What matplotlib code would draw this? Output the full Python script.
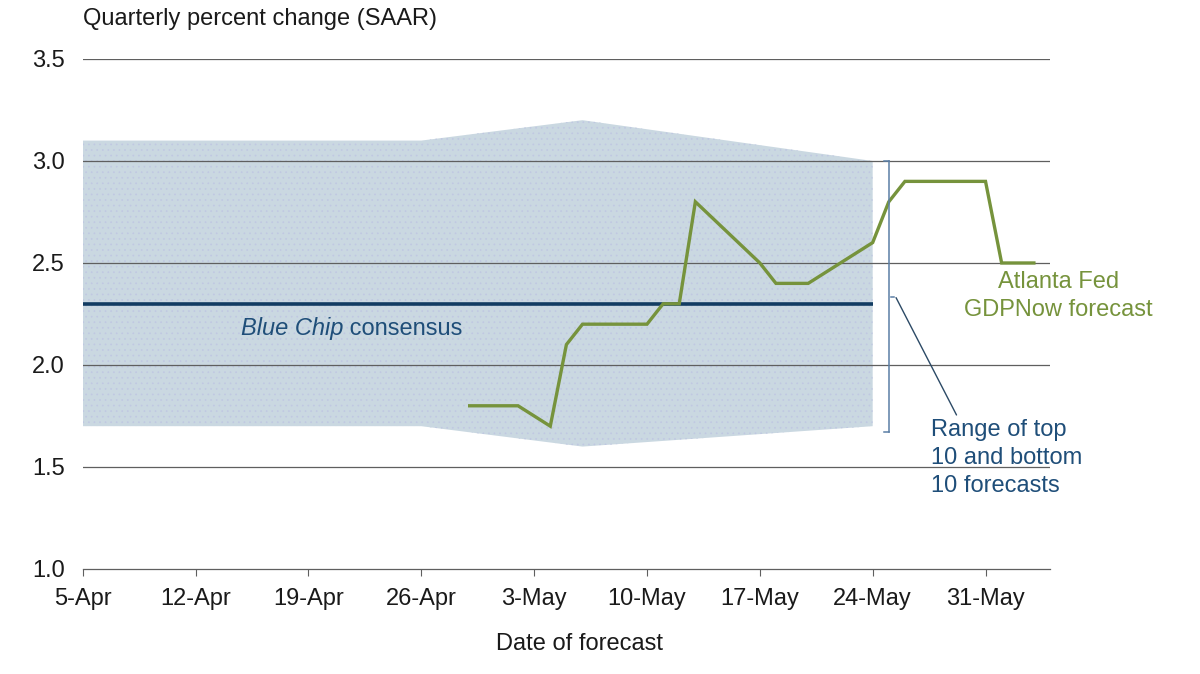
import matplotlib
matplotlib.use("Agg")
import matplotlib.pyplot as plt
import matplotlib.dates as mdates
import numpy as np
import datetime as dt

# ---- data ----
gdpnow_dates = ["2016-04-29", "2016-05-02", "2016-05-04", "2016-05-05", "2016-05-06",
                "2016-05-10", "2016-05-11", "2016-05-12", "2016-05-13", "2016-05-17",
                "2016-05-18", "2016-05-20", "2016-05-24", "2016-05-25", "2016-05-26",
                "2016-05-31", "2016-06-01", "2016-06-03"]
gdpnow_values = [1.8, 1.8, 1.7, 2.1, 2.2,
                 2.2, 2.3, 2.3, 2.8, 2.5,
                 2.4, 2.4, 2.6, 2.8, 2.9,
                 2.9, 2.5, 2.5]

band_dates = ["2016-04-05", "2016-04-26", "2016-05-06", "2016-05-24"]
band_top = [3.1, 3.1, 3.2, 3.0]
band_bottom = [1.7, 1.7, 1.6, 1.7]

consensus_dates = ["2016-04-05", "2016-05-24"]
consensus_values = [2.3, 2.3]

tick_dates = ["2016-04-05", "2016-04-12", "2016-04-19", "2016-04-26", "2016-05-03",
              "2016-05-10", "2016-05-17", "2016-05-24", "2016-05-31"]
tick_labels = ["5-Apr", "12-Apr", "19-Apr", "26-Apr", "3-May", "10-May", "17-May",
               "24-May", "31-May"]
y_ticks = [1.0, 1.5, 2.0, 2.5, 3.0, 3.5]
y_tick_labels = ["1.0", "1.5", "2.0", "2.5", "3.0", "3.5"]

def to_dates(lst):
    return [dt.datetime.strptime(s, "%Y-%m-%d") for s in lst]

GREEN = "#76933c"
NAVY = "#123c62"
TEXTBLUE = "#1f4e79"
BAND = "#cad8e1"
BRACKET = "#5b7fa6"
FS = 17

plt.rcParams['font.family'] = ['Liberation Sans', 'DejaVu Sans']
plt.rcParams['hatch.linewidth'] = 0.5

fig = plt.figure(figsize=(12, 6.74), dpi=100)
ax = fig.add_axes([0.069, 0.1558, 0.806, 0.7567])

ax.set_xlim(dt.datetime(2016, 4, 5), dt.datetime(2016, 6, 4))
ax.set_ylim(1.0, 3.5)

# grid lines
for yv in y_ticks[1:]:
    ax.axhline(yv, color="#5f5f5f", lw=0.9, zorder=3)

# band
ax.fill_between(to_dates(band_dates), band_bottom, band_top, facecolor=BAND,
                edgecolor="#c0c8e2", hatch="...", linewidth=0, zorder=1)

# consensus
ax.plot(to_dates(consensus_dates), consensus_values, color=NAVY, lw=2.6, zorder=4,
        solid_capstyle="butt")

# gdpnow
ax.plot(to_dates(gdpnow_dates), gdpnow_values, color=GREEN, lw=2.4, zorder=5,
        solid_joinstyle="miter")

# axis styling
for s in ["top", "right", "left"]:
    ax.spines[s].set_visible(False)
ax.spines["bottom"].set_color("#5f5f5f")
ax.spines["bottom"].set_linewidth(0.9)
ax.set_xticks(to_dates(tick_dates))
ax.set_xticklabels(tick_labels, fontsize=FS, color="#1a1a1a")
ax.tick_params(axis="x", length=5, width=0.8, color="#5f5f5f", pad=8.5)
ax.set_yticks(y_ticks)
ax.set_yticklabels(y_tick_labels, fontsize=FS, color="#1a1a1a")
ax.tick_params(axis="y", length=0, pad=13)

ax.set_xlabel("Date of forecast", fontsize=FS, color="#1a1a1a", labelpad=14)
ax.xaxis.set_label_coords(0.514, -0.125)
fig.text(0.069, 0.972, "Quarterly percent change (SAAR)", fontsize=FS,
         color="#1a1a1a", ha="left", va="center")

# Blue Chip consensus label
t1 = ax.text(dt.datetime(2016, 4, 14, 19), 2.148, "Blue Chip", fontsize=FS, style="italic",
             color=TEXTBLUE, ha="left", va="baseline", zorder=6)
ax.annotate(" consensus", xy=(1, 0), xycoords=t1, fontsize=FS, color=TEXTBLUE,
            ha="left", va="bottom", zorder=6)

# Atlanta Fed label
ax.text(dt.datetime(2016, 6, 4, 13), 2.34, "Atlanta Fed\nGDPNow forecast", fontsize=FS,
        color=GREEN, ha="center", va="center", linespacing=1.36, clip_on=False)

# bracket for range
bx = mdates.date2num(dt.datetime(2016, 5, 25, 0))
ax.plot([bx, bx], [1.67, 3.0], color=BRACKET, lw=1.1, clip_on=False, zorder=6)
ax.plot([bx - 0.3, bx], [3.0, 3.0], color=BRACKET, lw=1.1, zorder=6)
ax.plot([bx - 0.3, bx], [1.67, 1.67], color=BRACKET, lw=1.1, zorder=6)
ax.plot([bx + 0.15, bx + 0.35], [2.335, 2.335], color=BRACKET, lw=1.1, zorder=6)
ax.annotate("", xy=(bx + 0.45, 2.33), xytext=(bx + 4.2, 1.755),
            arrowprops=dict(arrowstyle="-", color="#2c4a66", lw=1.0,
                            shrinkA=0, shrinkB=0))
ax.text(bx + 2.6, 1.545, "Range of top\n10 and bottom\n10 forecasts", fontsize=FS,
        color=TEXTBLUE, ha="left", va="center", linespacing=1.36, clip_on=False)

fig.savefig("out.png", dpi=100)
